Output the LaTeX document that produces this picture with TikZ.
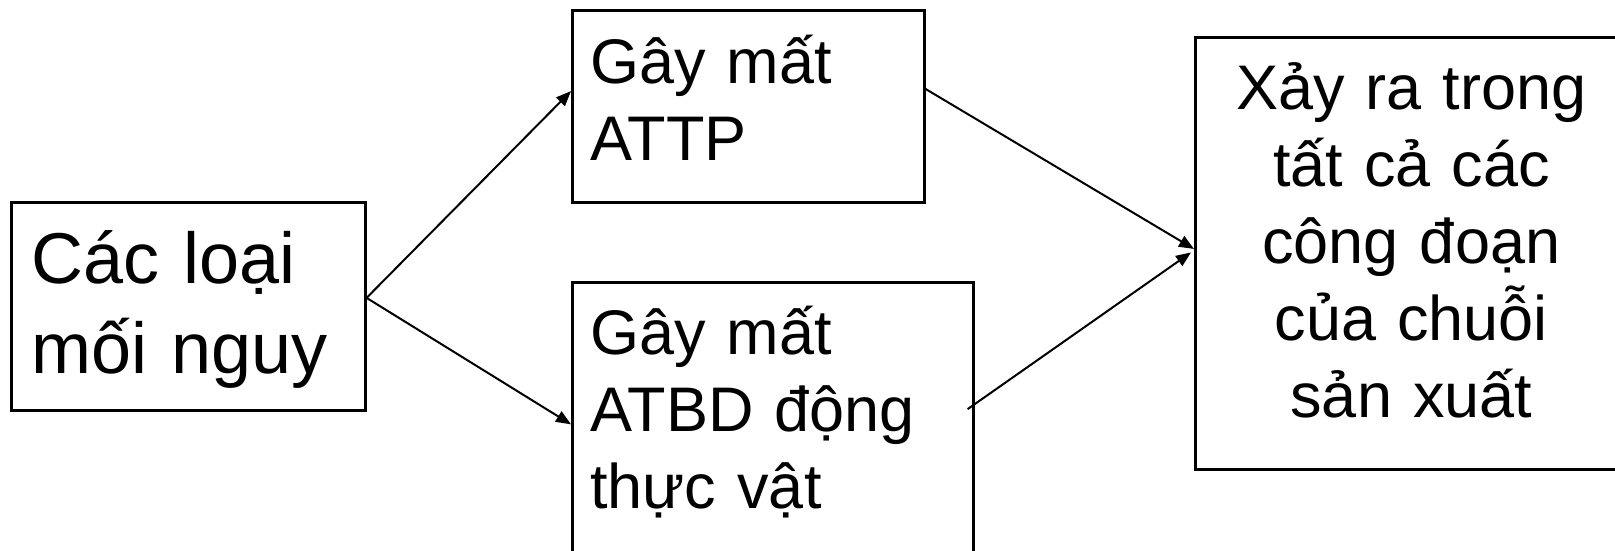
\documentclass[tikz,border=0pt]{standalone}
\usepackage{fontspec}
\setmainfont{Liberation Sans}
\usetikzlibrary{arrows.meta,calc}
\begin{document}
\begin{tikzpicture}[x=1pt,y=-1pt,
  box/.style={draw=black,line width=2.6pt,rectangle,inner ysep=0pt,anchor=north west},
  big/.style={font=\fontsize{72}{90}\selectfont},
  mid/.style={font=\fontsize{63}{77}\selectfont},
  conn/.style={line width=2pt,-{Triangle[length=15pt,width=12pt]}}]
\clip (0,0) rectangle (1615,551);
\fill[white] (0,0) rectangle (1615,551);
\node[box,big,align=left,inner xsep=20pt,text width=314pt,text height=81pt,text depth=127pt] (b1) at (10,201) {Các loại\\mối nguy};
\node[box,mid,align=left,inner xsep=18pt,text width=316pt,text height=73pt,text depth=119pt] (b2) at (571,9) {Gây mất\\ATTP};
\node[box,mid,align=left,inner xsep=18pt,text width=365pt,text height=72pt,text depth=207pt] (b3) at (571,281) {Gây mất\\ATBD động\\thực vật};
\node[box,mid,align=center,inner xsep=10pt,text width=412pt,text height=72pt,text depth=360pt] (b4) at (1194,36) {Xảy ra trong\\tất cả các\\công đoạn\\của chuỗi\\sản xuất};
\coordinate (s1) at ($(b1.north east)!0.46!(b1.south east)$);
\coordinate (t2) at ($(b2.north west)!0.422!(b2.south west)$);
\coordinate (t3) at ($(b3.north west)!0.509!(b3.south west)$);
\coordinate (s2) at ($(b2.north east)!0.411!(b2.south east)$);
\coordinate (s3) at ($(b3.north east)!0.455!(b3.south east)+(-7,0)$);
\coordinate (t4a) at ($(b4.north west)!0.49!(b4.south west)$);
\coordinate (t4b) at ($(b4.north west)!0.498!(b4.south west)+(-3,0)$);
\draw[conn] (s1) -- (t2);
\draw[conn] (s1) -- (t3);
\draw[conn] (s2) -- (t4a);
\draw[conn] (s3) -- (t4b);
\end{tikzpicture}
\end{document}
